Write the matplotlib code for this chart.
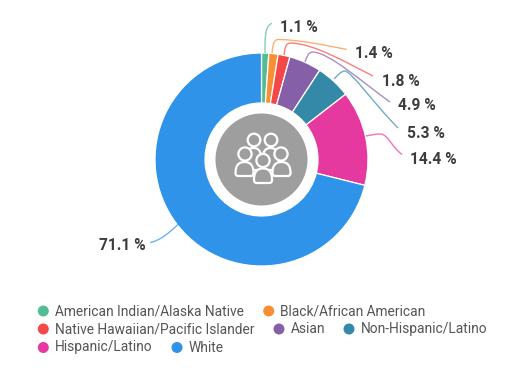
#!/usr/bin/env python

import matplotlib
matplotlib.use('Agg')
from matplotlib import pyplot as plt
from matplotlib.path import Path
from matplotlib.patches import Circle, PathPatch

categories = ['American Indian/Alaska Native', 'Black/African American',
              'Native Hawaiian/Pacific Islander', 'Asian', 'Non-Hispanic/Latino',
              'Hispanic/Latino', 'White']
values = [1.1, 1.4, 1.8, 4.9, 5.3, 14.4, 71.1]
colors = ['#52bd94', '#f98f35', '#f44848', '#8560a8', '#3589a8', '#e5399f', '#2e93e9']

TEXT = '#3c3c3c'
LEGEND_TEXT = '#555555'
GREY = '#9e9e9e'
H = 375


def y(py):
    # picture coordinates run downwards, the axes upwards
    return H - py


fig = plt.figure(figsize=(5.24, 3.75), dpi=100)
ax = fig.add_axes([0, 0, 1, 1])

ax.pie(values, colors=colors, startangle=90, counterclock=False,
       center=(261.5, y(159.5)), radius=106.5,
       wedgeprops=dict(width=50, edgecolor='white', linewidth=0.9))
ax.set_xlim(0, 524)
ax.set_ylim(0, H)
ax.set_aspect('equal')
ax.axis('off')

ax.add_patch(Circle((261.5, y(159.5)), 46, fc=GREY, ec='none', zorder=3))

# leader lines: start, control, control, bend, control, control, end
leaders = [
    [(265, 53), (265, 40), (264.5, 25), (272, 23.5), None, None, None],
    [(272, 53), (273, 46), (273, 39), (279, 39.5), (300, 40), (325, 45), (346.5, 49.5)],
    [(284, 55), (285, 49), (285, 43), (291, 43), (315, 44), (345, 62), (373, 76)],
    [(305, 62), (307, 57), (308, 52), (313, 52), (330, 53), (362, 82), (390, 102)],
    [(334, 79), (338, 75), (341, 71), (345, 71), (352, 72), (375, 105), (398, 128)],
    [(366, 136), (371, 135), (375, 134), (381, 134), (388, 135), (392, 147), (402, 154.5)],
]
leader_colors = colors[:6]
for pts, col in zip(leaders, leader_colors):
    xy = [(px, y(py)) for px, py in pts[:4]]
    codes = [Path.MOVETO, Path.CURVE4, Path.CURVE4, Path.CURVE4]
    if pts[4] is not None:
        xy += [(px, y(py)) for px, py in pts[4:]]
        codes += [Path.CURVE4, Path.CURVE4, Path.CURVE4]
    ax.add_patch(PathPatch(Path(xy, codes), fc='none', ec=col, lw=1.0, alpha=0.7, zorder=2))

ax.add_patch(PathPatch(Path([(178.5, y(224)), (170, y(232)), (160, y(241)), (150, y(242.5))],
                            [Path.MOVETO, Path.CURVE4, Path.CURVE4, Path.CURVE4]),
                       fc='none', ec=colors[6], lw=1.0, alpha=0.7, zorder=2))

# value labels
label_pos = [(280, 28), (355, 54), (382, 81), (398, 106), (407, 133), (410, 159), (99, 246)]
for v, (px, py) in zip(values, label_pos):
    ax.text(px, y(py), '%.1f %%' % v, fontfamily='Roboto', fontweight='bold',
            fontsize=11.2, color=TEXT, ha='left', va='center')

# legend
legend_pos = [(43.3, 311), (268.7, 311), (43.3, 329), (279, 329), (349, 329), (43.3, 347.5), (177, 347.5)]
for name, col, (px, py) in zip(categories, colors, legend_pos):
    ax.add_patch(Circle((px, y(py)), 5.5, fc=col, ec='none'))
    ax.text(px + 11.5, y(py), name, fontfamily='Roboto', fontsize=9.9,
            color=LEGEND_TEXT, ha='left', va='center')


# people icon
def body(x0, x1, top, bottom, z):
    w = x1 - x0
    xm = (x0 + x1) / 2
    verts = [(x0, y(bottom - 3)), (x0, y(top + 4)), (x0 + w * 0.15, y(top)), (xm, y(top)),
             (x1 - w * 0.15, y(top)), (x1, y(top + 4)), (x1, y(bottom - 3)),
             (x1, y(bottom - 1)), (x1 - 1, y(bottom)), (x1 - 3, y(bottom)),
             (x0 + 3, y(bottom)),
             (x0 + 1, y(bottom)), (x0, y(bottom - 1)), (x0, y(bottom - 3))]
    codes = [Path.MOVETO] + [Path.CURVE4] * 9 + [Path.LINETO] + [Path.CURVE4] * 3
    ax.add_patch(PathPatch(Path(verts, codes), fc=GREY, ec='white', lw=1.6, zorder=z))


def head(cx, cy, r, z):
    ax.add_patch(Circle((cx, y(cy)), r, fc=GREY, ec='white', lw=1.6, zorder=z))


body(245, 262, 148, 170, 4)
body(262, 279, 148, 170, 4)
head(254, 140, 6.3, 4.1)
head(271, 140, 6.3, 4.1)
body(235.5, 253.5, 162, 176, 5)
body(272.5, 290.5, 162, 176, 5)
head(245, 154, 6.6, 5.1)
head(281, 154, 6.6, 5.1)
body(254, 272, 168.5, 183, 6)
head(263, 160.5, 6.6, 6.1)

fig.savefig('out.png', dpi=100)
